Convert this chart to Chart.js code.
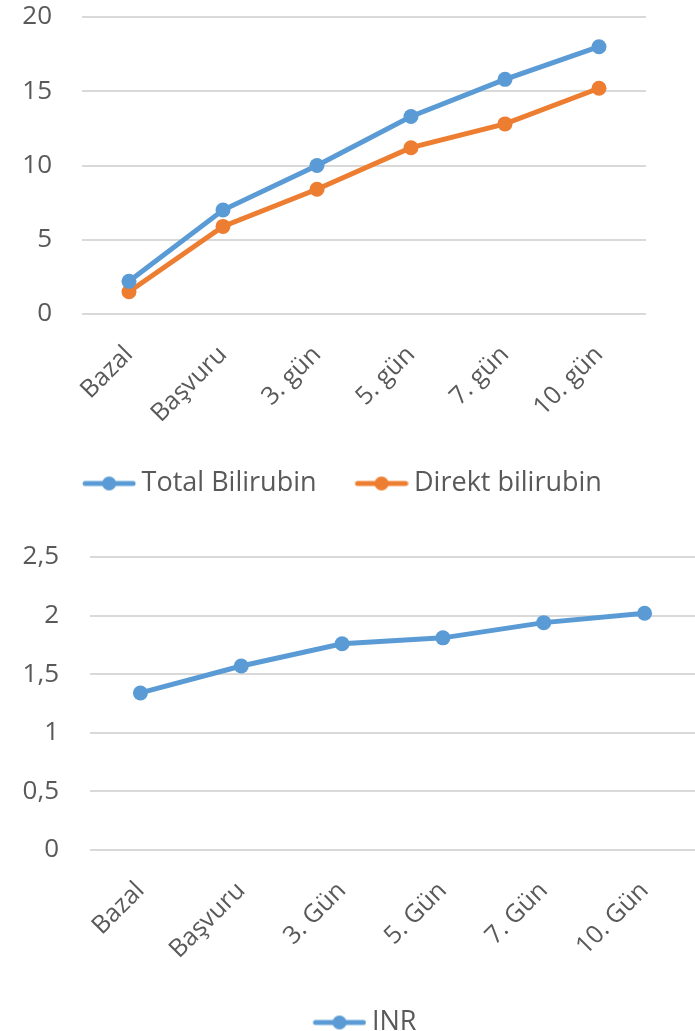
<!DOCTYPE html>
<html>
<head>
<meta charset="utf-8">
<script src="https://cdn.jsdelivr.net/npm/chart.js@4.4.1/dist/chart.umd.min.js"></script>
<style>
  html,body{margin:0;padding:0;background:#fff;overflow:hidden;}
  .box{position:absolute;left:0;width:695px;}
  #top{top:0;height:520px;}
  #bottom{top:525px;height:521px;}
</style>
</head>
<body>
<div class="box" id="top"><canvas id="bilirubinChart"></canvas></div>
<div class="box" id="bottom"><canvas id="inrChart"></canvas></div>
<script>
const labelsBil = ['Bazal','Başvuru','3. gün','5. gün','7. gün','10. gün'];
const totalBilirubin = [2.2, 7.0, 10.0, 13.3, 15.8, 18.0];
const direktBilirubin = [1.5, 5.9, 8.4, 11.2, 12.8, 15.2];
const bilTicks = [0, 5, 10, 15, 20];

const labelsInr = ['Bazal','Başvuru','3. Gün','5. Gün','7. Gün','10. Gün'];
const inrValues = [1.34, 1.57, 1.76, 1.81, 1.94, 2.02];
const inrTicks = [0, 0.5, 1, 1.5, 2, 2.5];

const BLUE = '#5b9bd5', ORANGE = '#ed7d31', TEXT = '#595959', GRID = '#d9d9d9';
const FONT = '"Open Sans", sans-serif';

// line-with-dot legend marker, drawn in the right part so the text sits close to it
function legendMarker(color){
  const c = document.createElement('canvas');
  c.width = 70; c.height = 16;
  const g = c.getContext('2d');
  g.strokeStyle = color; g.lineWidth = 5; g.lineCap = 'round';
  g.beginPath(); g.moveTo(19,8); g.lineTo(67,8); g.stroke();
  g.fillStyle = color; g.beginPath(); g.arc(43,8,7,0,Math.PI*2); g.fill();
  return c;
}

// nudge the legend sideways without touching the plot area
const legendShift = (dx)=>({ id:'legendShift', afterLayout(chart){ chart.legend.left += dx; chart.legend.right += dx; } });

function lineDs(label, data, color){
  return { label, data, borderColor:color, backgroundColor:color, borderWidth:5,
    pointRadius:7.5, pointHoverRadius:7.5, pointBackgroundColor:color, pointBorderWidth:0,
    tension:0 };
}

function makeOptions(yTicks, yPad, yWidth, xHeight, pad, fmt){
  return {
    responsive:true, maintainAspectRatio:false, animation:false,
    layout:{ padding:pad, autoPadding:false },
    plugins:{
      tooltip:{ enabled:false },
      legend:{ position:'bottom', labels:{ usePointStyle:true, pointStyleWidth:54, boxHeight:16,
        color:TEXT, font:{ family:FONT, size:27 }, padding:30,
        generateLabels:(chart)=>chart.data.datasets.map((d,i)=>({
          text:d.label, fontColor:TEXT, pointStyle:legendMarker(d.borderColor),
          fillStyle:d.borderColor, strokeStyle:d.borderColor, lineWidth:0, hidden:false, datasetIndex:i })) } }
    },
    scales:{
      x:{ offset:true, grid:{ display:false }, border:{ display:false },
        ticks:{ color:TEXT, font:{ family:FONT, size:25 }, minRotation:45, maxRotation:45, padding:18 },
        afterFit:(s)=>{ s.height = xHeight; s.paddingLeft = 0; s.paddingRight = 0; } },
      y:{ min:yTicks[0], max:yTicks[yTicks.length-1],
        afterBuildTicks:(s)=>{ s.ticks = yTicks.map(v=>({value:v})); },
        grid:{ color:GRID, lineWidth:2, drawTicks:false }, border:{ display:false },
        ticks:{ color:TEXT, font:{ family:FONT, size:26 }, padding:yPad, callback:fmt },
        afterFit:(s)=>{ s.width = yWidth; s.paddingTop = 0; s.paddingBottom = 0; } }
    }
  };
}

document.addEventListener('DOMContentLoaded', ()=>{
  const ctx1 = document.getElementById('bilirubinChart').getContext('2d');
  new Chart(ctx1, { type:'line',
    data:{ labels:labelsBil, datasets:[ lineDs('Total Bilirubin', totalBilirubin, BLUE), lineDs('Direkt bilirubin', direktBilirubin, ORANGE) ] },
    options:makeOptions(bilTicks, 30, 82, 126, {top:17, right:49, bottom:13, left:0}, v=>v),
    plugins:[legendShift(15)]
  });

  const ctx2 = document.getElementById('inrChart').getContext('2d');
  new Chart(ctx2, { type:'line',
    data:{ labels:labelsInr, datasets:[ lineDs('INR', inrValues, BLUE) ] },
    options:makeOptions(inrTicks, 31, 90, 129, {top:32, right:0, bottom:0, left:0}, v=>String(v).replace('.', ',')),
    plugins:[legendShift(13)]
  });
});
</script>
</body>
</html>
